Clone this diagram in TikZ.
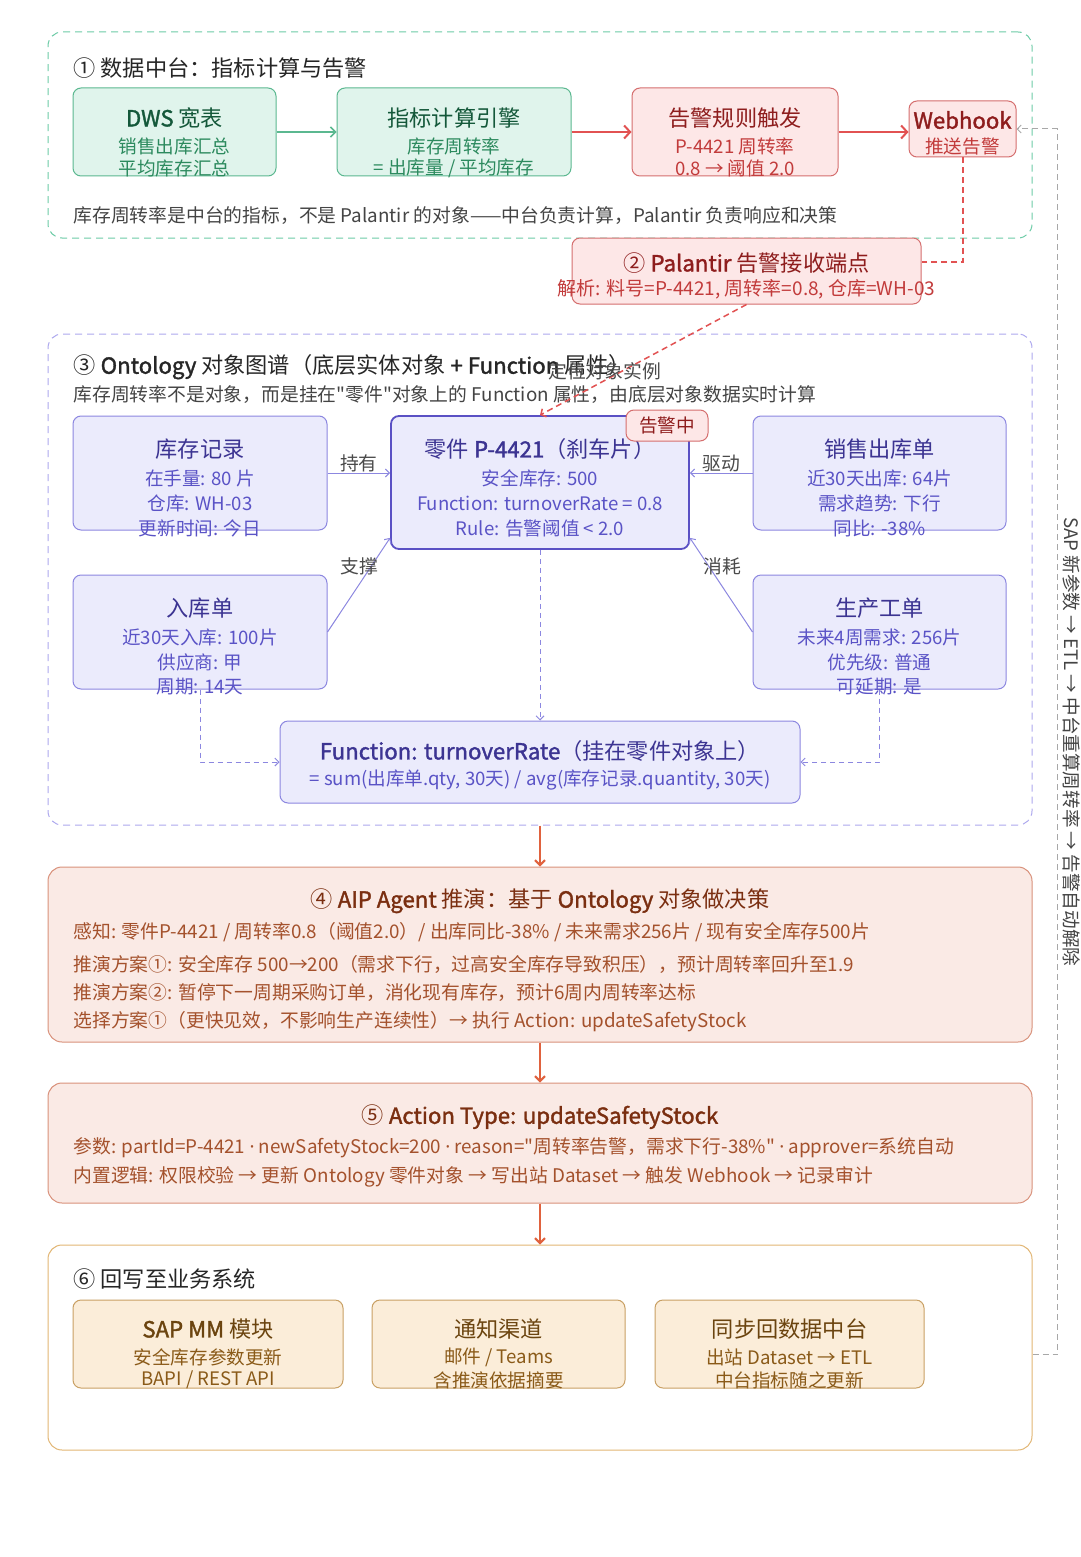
\documentclass[tikz,border=0pt]{standalone}
\usepackage{fontspec}
\setmainfont{Noto Sans CJK SC}[Ligatures=TeXOff]
\newfontfamily\latinfont{Noto Sans}
\newfontfamily\semifont{Noto Sans CJK SC}[Ligatures=TeXOff, FakeBold=1.6]
\usetikzlibrary{arrows.meta}

\definecolor{darktext}{HTML}{262626}
\definecolor{notegray}{HTML}{444444}
\definecolor{taggray}{HTML}{4A4A4A}
\definecolor{grndash}{HTML}{6CCBA6}
\definecolor{grnfill}{HTML}{E0F4EC}
\definecolor{grnedge}{HTML}{5BB890}
\definecolor{grnttl}{HTML}{14583A}
\definecolor{grnsub}{HTML}{2C8A5E}
\definecolor{redfill}{HTML}{FDE7E7}
\definecolor{rededge}{HTML}{D56E6E}
\definecolor{redttl}{HTML}{8E1D1D}
\definecolor{redsub}{HTML}{C23B3B}
\definecolor{redarrow}{HTML}{E25252}
\definecolor{purdash}{HTML}{ADA8EE}
\definecolor{purfill}{HTML}{EBEBFC}
\definecolor{puredge}{HTML}{8C87E0}
\definecolor{purttl}{HTML}{3C3492}
\definecolor{pursub}{HTML}{5A53C6}
\definecolor{partedge}{HTML}{5A50C4}
\definecolor{orfill}{HTML}{FAEAE5}
\definecolor{oredge}{HTML}{D9917B}
\definecolor{orttl}{HTML}{7A2E10}
\definecolor{orbody}{HTML}{A4512C}
\definecolor{orarrow}{HTML}{E0623E}
\definecolor{yeledge}{HTML}{E2B674}
\definecolor{yelfill}{HTML}{FBEDD9}
\definecolor{yelbox}{HTML}{C9A064}
\definecolor{yelttl}{HTML}{6B440F}
\definecolor{yelsub}{HTML}{8A5A18}
\definecolor{fbgray}{HTML}{A8A8A8}

\newcommand{\mdot}{{\latinfont ·}}
\newcommand{\heavy}[1]{{\semifont #1}}

\tikzset{
	group/.style={draw, rounded corners=14pt, line width=1pt, inner sep=0pt},
	card/.style={draw, rounded corners=8pt, line width=1pt, inner sep=0pt},
	head/.style={inner sep=0pt, font=\fontsize{22.2}{25}\selectfont},
	sub/.style={inner sep=0pt, font=\fontsize{18.6}{21}\selectfont},
	note/.style={inner sep=0pt, anchor=west, text=notegray, font=\fontsize{18.8}{21}\selectfont},
	tag/.style={inner sep=1pt, text=taggray, font=\fontsize{18.8}{21}\selectfont},
	gcard/.style={card, draw=grnedge, fill=grnfill},
	rcard/.style={card, draw=rededge, fill=redfill},
	pcard/.style={card, draw=puredge, fill=purfill},
	ycard/.style={card, draw=yelbox, fill=yelfill},
	dashline/.style={dash pattern=on 6pt off 4pt},
	redlink/.style={draw=redarrow, line width=2pt, -{Straight Barb[length=6pt,width=13pt]}},
	orlink/.style={draw=orarrow, line width=2pt, -{Straight Barb[length=5pt,width=10pt]}},
	purlink/.style={draw=puredge, line width=1pt, -{Straight Barb[length=4pt,width=8pt]}},
}

\begin{document}
\begin{tikzpicture}[x=1pt, y=-1pt, line width=1pt]
	\useasboundingbox (0,0) rectangle (1080,1557);
	\fill[white] (0,0) rectangle (1080,1557);

	% (1) data platform: metric and alert
	\node[group, dash pattern=on 7pt off 5pt, draw=grndash, minimum width=984pt, minimum height=206pt] (sec1) at (540,135) {};
	\node[head, anchor=west, text=darktext] (sec1-t) at (73,68) {① 数据中台：指标计算与告警};

	\node[gcard, minimum width=203pt, minimum height=88pt] (dws) at (174.5,132) {};
	\node[head, text=grnttl] (dws-t) at (174.5,118) {\heavy{DWS} 宽表};
	\node[sub, text=grnsub] (dws-a) at (174.5,146) {销售出库汇总};
	\node[sub, text=grnsub] (dws-b) at (174.5,168) {平均库存汇总};

	\node[gcard, minimum width=234pt, minimum height=88pt] (eng) at (454,132) {};
	\node[head, text=grnttl] (eng-t) at (454,118) {指标计算引擎};
	\node[sub, text=grnsub] (eng-a) at (454,146) {库存周转率};
	\node[sub, text=grnsub] (eng-b) at (454,168) {= 出库量 / 平均库存};

	\node[rcard, minimum width=206pt, minimum height=88pt] (alert) at (735,132) {};
	\node[head, text=redttl] (alert-t) at (735,118) {告警规则触发};
	\node[sub, text=redsub] (alert-a) at (735,146) {P-4421 周转率};
	\node[sub, text=redsub] (alert-b) at (735,168) {0.8 → 阈值 2.0};

	\node[rcard, minimum width=107pt, minimum height=56pt] (hook) at (962.5,129) {};
	\node[head, text=redttl] (hook-t) at (962.5,120) {\heavy{Webhook}};
	\node[sub, text=redsub] (hook-a) at (962.5,146) {推送告警};

	\draw[draw=grnedge, line width=1.5pt, -{Straight Barb[length=5pt,width=10pt]}] (dws.east) -- (eng.west);
	\draw[redlink] (eng.east) -- (alert.west);
	\draw[redlink] (alert.east) -- (alert.east -| hook.west);

	\node[note] (sec1-n) at (73,216) {库存周转率是中台的指标，不是 Palantir 的对象——中台负责计算，Palantir 负责响应和决策};

	% (2) alert receiver
	\node[rcard, minimum width=349pt, minimum height=66pt] (recv) at (746.5,271) {};
	\node[head, text=redttl] (recv-t) at (746.5,263) {② \heavy{Palantir} 告警接收端点};
	\node[inner sep=0pt, text=redsub, font=\fontsize{19}{21}\selectfont] (recv-a) at (746.5,289) {解析: 料号=P-4421, 周转率=0.8, 仓库=WH-03};
	\draw[draw=redarrow, line width=2pt, dashline] (hook.south) |- ([yshift=9pt]recv.east);

	% (3) ontology graph
	\node[group, dash pattern=on 7pt off 5pt, draw=purdash, minimum width=984pt, minimum height=491pt] (sec3) at (540,579.5) {};
	\node[head, anchor=west, text=darktext] (sec3-t) at (73,367) {③ \heavy{Ontology} 对象图谱（底层实体对象 \heavy{+ Function} 属性）};
	\node[note] (sec3-n) at (73,395) {库存周转率不是对象，而是挂在"零件"对象上的 Function 属性，由底层对象数据实时计算};

	\node[pcard, minimum width=254pt, minimum height=114pt] (inv) at (200,473) {};
	\node[head, text=purttl] (inv-t) at (200,449) {库存记录};
	\node[sub, text=pursub] (inv-a) at (200,478) {在手量: 80 片};
	\node[sub, text=pursub] (inv-b) at (200,503) {仓库: WH-03};
	\node[sub, text=pursub] (inv-c) at (200,528) {更新时间: 今日};

	\node[pcard, draw=partedge, line width=1.8pt, minimum width=298pt, minimum height=133pt] (part) at (540,482.5) {};
	\node[head, text=purttl] (part-t) at (540,449) {零件 \heavy{P-4421}（刹车片）};
	\node[sub, text=pursub] (part-a) at (540,478) {安全库存: 500};
	\node[sub, text=pursub] (part-b) at (540,503) {Function: turnoverRate = 0.8};
	\node[sub, text=pursub] (part-c) at (540,528) {Rule: 告警阈值 < 2.0};
	\node[rcard, minimum width=82pt, minimum height=31pt, font=\fontsize{18.6}{20}\selectfont, text=redttl] (badge) at (667,425.5) {告警中};

	\node[pcard, minimum width=253pt, minimum height=114pt] (sales) at (879.5,473) {};
	\node[head, text=purttl] (sales-t) at (879.5,449) {销售出库单};
	\node[sub, text=pursub] (sales-a) at (879.5,478) {近30天出库: 64片};
	\node[sub, text=pursub] (sales-b) at (879.5,503) {需求趋势: 下行};
	\node[sub, text=pursub] (sales-c) at (879.5,528) {同比: -38\%};

	\node[pcard, minimum width=254pt, minimum height=114pt] (inb) at (200,632) {};
	\node[head, text=purttl] (inb-t) at (200,608) {入库单};
	\node[sub, text=pursub] (inb-a) at (200,637) {近30天入库: 100片};
	\node[sub, text=pursub] (inb-b) at (200,662) {供应商: 甲};
	\node[sub, text=pursub] (inb-c) at (200,687) {周期: 14天};

	\node[pcard, minimum width=253pt, minimum height=114pt] (prod) at (879.5,632) {};
	\node[head, text=purttl] (prod-t) at (879.5,608) {生产工单};
	\node[sub, text=pursub] (prod-a) at (879.5,637) {未来4周需求: 256片};
	\node[sub, text=pursub] (prod-b) at (879.5,662) {优先级: 普通};
	\node[sub, text=pursub] (prod-c) at (879.5,687) {可延期: 是};

	\node[pcard, minimum width=520pt, minimum height=82pt] (func) at (540,762) {};
	\node[head, text=purttl] (func-t) at (540,751) {\heavy{Function: turnoverRate}（挂在零件对象上）};
	\node[sub, text=pursub] (func-a) at (540,780) {= sum(出库单.qty, 30天) / avg(库存记录.quantity, 30天)};

	% relations between the objects
	\draw[purlink] (inv.east) -- (inv.east -| part.west) node[midway, above, tag] {持有};
	\draw[purlink] (sales.west) -- (sales.west -| part.east) node[midway, above, tag] {驱动};
	\draw[purlink] (inb.east) -- ([yshift=12pt]part.south west) node[pos=0.7, xshift=-12pt, tag] {支撑};
	\draw[purlink] (prod.west) -- ([yshift=12pt]part.south east) node[pos=0.7, xshift=14pt, tag] {消耗};
	\draw[purlink, dash pattern=on 5pt off 4pt] (part.south) -- (func.north);
	\draw[purlink, dash pattern=on 5pt off 4pt] (inb.south) |- (func.west);
	\draw[purlink, dash pattern=on 5pt off 4pt] (prod.south) |- (func.east);

	% the alert locates the object
	\draw[draw=redarrow, line width=1.5pt, dashline, -{Straight Barb[length=4pt,width=9pt]}] (recv.south) -- (part.north)
		node[pos=0.6, xshift=-18pt, tag] {定位对象实例};

	% (4) AIP agent
	\node[group, draw=oredge, fill=orfill, minimum width=984pt, minimum height=175pt] (sec4) at (540,954.5) {};
	\node[head, text=orttl] (sec4-t) at (540,901) {④ \heavy{AIP Agent} 推演：基于 \heavy{Ontology} 对象做决策};
	\node[note, text=orbody] (sec4-a) at (73,932) {感知: 零件P-4421 / 周转率0.8（阈值2.0）/ 出库同比-38\% / 未来需求256片 / 现有安全库存500片};
	\node[note, text=orbody] (sec4-b) at (73,964) {推演方案①: 安全库存 500→200（需求下行，过高安全库存导致积压），预计周转率回升至1.9};
	\node[note, text=orbody] (sec4-c) at (73,993) {推演方案②: 暂停下一周期采购订单，消化现有库存，预计6周内周转率达标};
	\node[note, text=orbody] (sec4-d) at (73,1022) {选择方案①（更快见效，不影响生产连续性）→ 执行 Action: updateSafetyStock};

	% (5) action type
	\node[group, draw=oredge, fill=orfill, minimum width=984pt, minimum height=120pt] (sec5) at (540,1143) {};
	\node[head, text=orttl] (sec5-t) at (540,1117) {⑤ \heavy{Action Type: updateSafetyStock}};
	\node[note, text=orbody] (sec5-a) at (73,1148) {参数: partId=P-4421 \mdot{} newSafetyStock=200 \mdot{} reason="周转率告警，需求下行-38\%" \mdot{} approver=系统自动};
	\node[note, text=orbody] (sec5-b) at (73,1177) {内置逻辑: 权限校验 → 更新 Ontology 零件对象 → 写出站 Dataset → 触发 Webhook → 记录审计};

	% (6) write back
	\node[group, draw=yeledge, fill=white, minimum width=984pt, minimum height=205pt] (sec6) at (540,1347.5) {};
	\node[head, anchor=west, text=darktext] (sec6-t) at (73,1279) {⑥ 回写至业务系统};

	\node[ycard, minimum width=270pt, minimum height=88pt] (sap) at (208,1344) {};
	\node[head, text=yelttl] (sap-t) at (208,1329) {\heavy{SAP MM} 模块};
	\node[sub, text=yelsub] (sap-a) at (208,1357) {安全库存参数更新};
	\node[sub, text=yelsub] (sap-b) at (208,1380) {BAPI / REST API};

	\node[ycard, minimum width=253pt, minimum height=88pt] (notif) at (498.5,1344) {};
	\node[head, text=yelttl] (notif-t) at (498.5,1329) {通知渠道};
	\node[sub, text=yelsub] (notif-a) at (498.5,1357) {邮件 / Teams};
	\node[sub, text=yelsub] (notif-b) at (498.5,1380) {含推演依据摘要};

	\node[ycard, minimum width=269pt, minimum height=88pt] (sync) at (789.5,1344) {};
	\node[head, text=yelttl] (sync-t) at (789.5,1329) {同步回数据中台};
	\node[sub, text=yelsub] (sync-a) at (789.5,1357) {出站 Dataset → ETL};
	\node[sub, text=yelsub] (sync-b) at (789.5,1380) {中台指标随之更新};

	% flow between the stages
	\draw[orlink] (sec3.south) -- (sec4.north);
	\draw[orlink] (sec4.south) -- (sec5.north);
	\draw[orlink] (sec5.south) -- (sec6.north);

	% feedback loop back to the platform
	\draw[draw=fbgray, dashline, line width=1pt, -{Straight Barb[length=4pt,width=8pt]}]
		([yshift=-7pt]sec6.east) -- ++(25,0) coordinate (fb)
		-- (fb |- hook.east) node[midway, rotate=-90, anchor=south, inner sep=5pt, text=notegray, font=\fontsize{18.6}{20}\selectfont] {SAP 新参数 → ETL → 中台重算周转率 → 告警自动解除}
		-- (hook.east);
\end{tikzpicture}
\end{document}
